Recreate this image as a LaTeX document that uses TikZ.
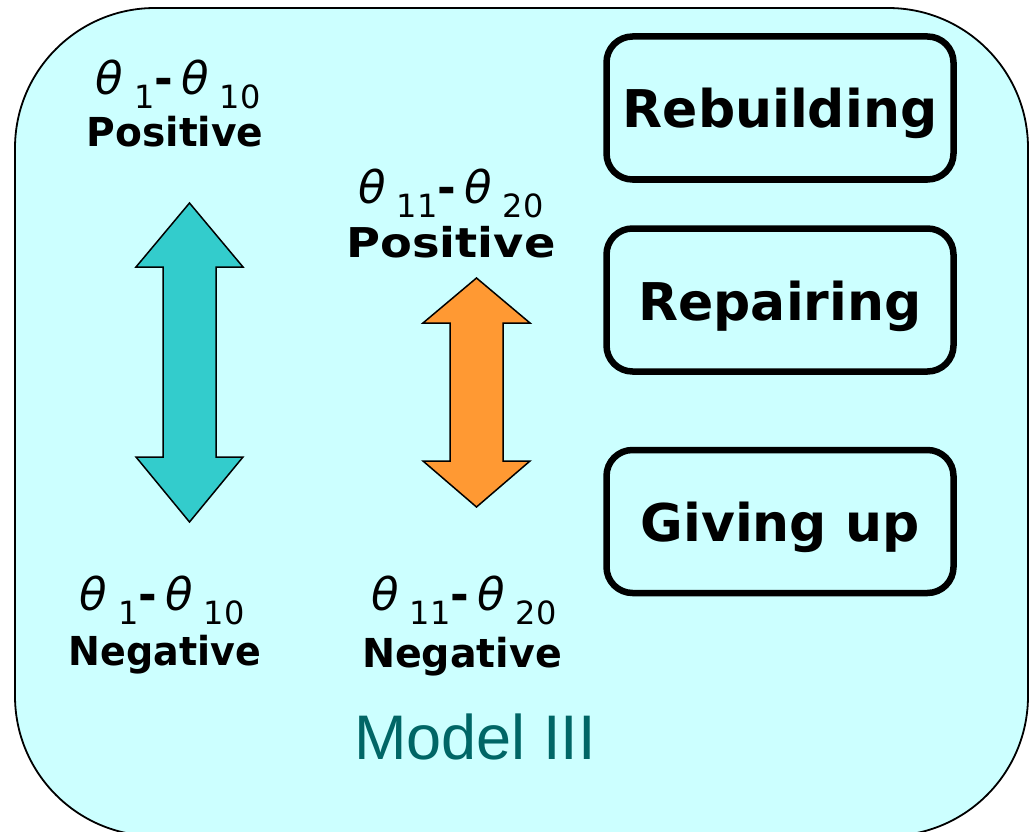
\documentclass[tikz,border=0pt]{standalone}
\usepackage{fontspec}
\usepackage{graphicx}
\setmainfont{DejaVu Sans}
\newfontfamily\arialf{Liberation Sans}
\definecolor{panelbg}{HTML}{CCFFFF}
\definecolor{tealarrow}{HTML}{33CCCC}
\definecolor{orangearrow}{HTML}{FF9933}
\definecolor{modelteal}{HTML}{006666}
% theta range: big oblique theta, lowered regular-weight subscripts, bold dash
\newcommand{\thfont}{\fontsize{45}{48}\selectfont}
\newcommand{\subfnt}{\fontsize{32}{34}\selectfont}
\newcommand{\thrange}[2]{{\itshape θ}\kern11pt\lower14pt\hbox{\subfnt #1}\kern0pt{\bfseries -}\kern8pt{\itshape θ}\kern11pt\lower14pt\hbox{\subfnt #2}}
\begin{document}
\begin{tikzpicture}[x=1pt,y=-1pt,
  choice/.style={draw=black, line width=6.5pt, rounded corners=26pt,
    minimum width=347pt, minimum height=143pt, inner sep=0pt,
    text height=40pt, text depth=0pt,
    font=\fontsize{52}{56}\selectfont\bfseries},
  thlab/.style={anchor=base, inner sep=0pt, font=\thfont},
  signlab/.style={anchor=base, inner sep=0pt, font=\fontsize{38}{40}\selectfont\bfseries},
  dblarrow/.style={draw=black, line width=1.5pt, line join=miter}]
\useasboundingbox (0,0) rectangle (1031,832);
% rounded panel, partly cut off at the bottom
\begin{scope}
  \clip (0,0) rectangle (1031,832);
  \draw[fill=panelbg, line width=1.8pt, rounded corners=140pt] (15,8) rectangle (1028,836);
\end{scope}

% left range labels
\node[thlab] (t1) at (178,95) {\thrange{1}{10}};
\node[signlab] (p1) at (175,147) {\scalebox{1.03}[1.05]{Positive}};
\node[thlab] (t2) at (162,610) {\thrange{1}{10}};
\node[signlab] (n1) at (165,665) {\scalebox{1}[1.05]{Negative}};

% middle range labels
\node[thlab] (t3) at (451,203) {\thrange{11}{20}};
\node[signlab] (p2) at (451,257) {\scalebox{1.22}[1.08]{Positive}};
\node[thlab] (t4) at (464,610) {\thrange{11}{20}};
\node[signlab] (n2) at (462,667) {\scalebox{1.04}[1.05]{Negative}};

% double-headed arrows
\draw[dblarrow, fill=tealarrow]
  (189.5,203) -- (243,267) -- (216,267) -- (216,457) -- (243,457) -- (189.5,522)
  -- (136,457) -- (163,457) -- (163,267) -- (136,267) -- cycle;
\draw[dblarrow, fill=orangearrow]
  (476.5,278) -- (530,323) -- (503,323) -- (503,461) -- (530,461) -- (476.5,507)
  -- (423,461) -- (450,461) -- (450,323) -- (423,323) -- cycle;

% strategy boxes
\node[choice] (rebuild) at (780,108) {Rebuilding};
\node[choice] (repair) at (780,300) {Repairing};
\node[choice] (giveup) at (780,521.5) {Giving up};

% model title
\node[anchor=base, inner sep=0pt, text=modelteal, font=\arialf\fontsize{63}{66}\selectfont] (title) at (475,759) {Model III};
\end{tikzpicture}
\end{document}
